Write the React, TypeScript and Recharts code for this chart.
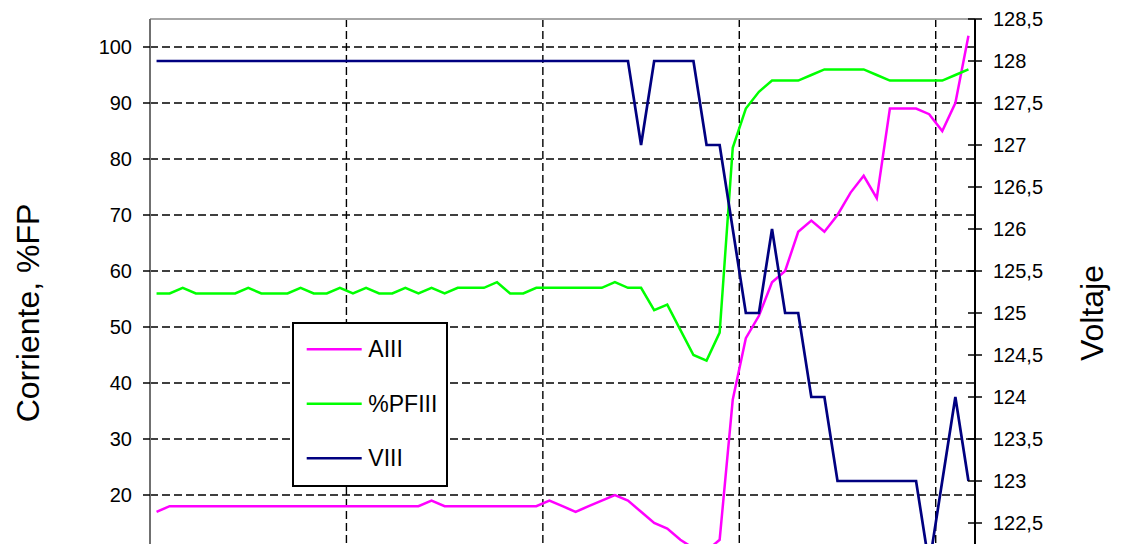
import React from "react";
import {
  LineChart,
  Line,
  XAxis,
  YAxis,
  CartesianGrid,
  Legend,
  ReferenceLine,
} from "recharts";

// values, one per sample (63 samples)
const aIII = [
  17, 18, 18, 18, 18, 18, 18, 18, 18, 18, 18, 18, 18, 18, 18, 18, 18, 18, 18, 18,
  18, 19, 18, 18, 18, 18, 18, 18, 18, 18, 19, 18, 17, 18, 19, 20, 19, 17, 15, 14,
  12, 10.5, 10, 12, 37, 48, 52, 58, 60, 67, 69, 67, 70, 74, 77, 73, 89, 89, 89, 88,
  85, 90, 102,
];

const pfIII = [
  56, 56, 57, 56, 56, 56, 56, 57, 56, 56, 56, 57, 56, 56, 57, 56, 57, 56, 56, 57,
  56, 57, 56, 57, 57, 57, 58, 56, 56, 57, 57, 57, 57, 57, 57, 58, 57, 57, 53, 54,
  49.5, 45, 44, 49, 82, 89, 92, 94, 94, 94, 95, 96, 96, 96, 96, 95, 94, 94, 94, 94,
  94, 95, 96,
];

const vIII = [
  128, 128, 128, 128, 128, 128, 128, 128, 128, 128, 128, 128, 128, 128, 128, 128,
  128, 128, 128, 128, 128, 128, 128, 128, 128, 128, 128, 128, 128, 128, 128, 128,
  128, 128, 128, 128, 128, 127, 128, 128, 128, 128, 127, 127, 126, 125, 125, 126,
  125, 125, 124, 124, 123, 123, 123, 123, 123, 123, 123, 122, 123, 124, 123,
];

const seriesNames = ["AIII", "%PFIII", "VIII"];

// only the ticks that fall inside the visible (cropped) part of the chart
const leftTicks = [20, 30, 40, 50, 60, 70, 80, 90, 100];
const rightTicks = [
  122.5, 123, 123.5, 124, 124.5, 125, 125.5, 126, 126.5, 127, 127.5, 128, 128.5,
];
// category boundaries where the vertical grid lines fall (every 15 samples)
const xGridTicks = [14.5, 29.5, 44.5, 59.5];

const rows = aIII.map((a, i) => ({
  idx: i,
  [seriesNames[0]]: a,
  [seriesNames[1]]: pfIII[i],
  [seriesNames[2]]: vIII[i],
}));

const FONT = "'Liberation Sans', Arial, Helvetica, sans-serif";
const comma = (v: number) => String(v).replace(".", ",");

const RightTick = (props: any) => {
  const { x, y, payload } = props;
  return (
    <g>
      <line x1={x - 25} x2={x - 18} y1={y} y2={y} stroke="#000" strokeWidth={1.5} />
      <text x={x} y={y} dy="0.355em" fontSize={20} fill="#000" textAnchor="start" fontFamily={FONT}>
        {comma(payload.value)}
      </text>
    </g>
  );
};

const axisTitle = (text: string, dx: number) => (p: any) => {
  const vb = p && p.viewBox ? p.viewBox : { x: 0, y: 19, width: 150, height: 588 };
  const cx = vb.x + dx;
  const cy = vb.y + vb.height / 2;
  return (
    <text
      x={cx}
      y={cy}
      transform={`rotate(-90, ${cx}, ${cy})`}
      textAnchor="middle"
      fontSize={32}
      fill="#000"
      fontFamily={FONT}
    >
      {text}
    </text>
  );
};

const LegendBox = (props: any) => {
  const items = [...(props.payload || [])].sort(
    (a: any, b: any) => seriesNames.indexOf(a.value) - seriesNames.indexOf(b.value)
  );
  return (
    <svg width={152} height={161} style={{ display: "block" }}>
      {items.map((it: any, k: number) => {
        const y = 25.3 + k * 54.5;
        return (
          <g key={it.value}>
            <line x1={12.7} x2={67.7} y1={y} y2={y} stroke={it.color} strokeWidth={2.5} />
            <text x={74.3} y={y} dy="0.355em" fontSize={23} fill="#000" fontFamily={FONT}>
              {it.value}
            </text>
          </g>
        );
      })}
    </svg>
  );
};

export default function App() {
  return (
    <div
      style={{
        position: "absolute",
        left: 0,
        top: 0,
        width: 1133,
        height: 544,
        overflow: "hidden",
        background: "#fff",
      }}
    >
      <LineChart
        width={1133}
        height={640}
        data={rows}
        margin={{ top: 19, right: 0, bottom: 3, left: 0 }}
        style={{ fontFamily: FONT }}
      >
        <CartesianGrid
          yAxisId="left"
          stroke="#000"
          strokeWidth={1.4}
          strokeDasharray="8 4"
        />
        <XAxis
          dataKey="idx"
          type="number"
          domain={[-0.5, 62.5]}
          ticks={xGridTicks}
          tickFormatter={() => ""}
          height={30}
          stroke="#000"
        />
        <YAxis
          yAxisId="left"
          orientation="left"
          width={150}
          domain={[0, 105]}
          ticks={leftTicks}
          interval={0}
          tickSize={7}
          tickMargin={11}
          axisLine={{ stroke: "#707070", strokeWidth: 2 }}
          tickLine={{ stroke: "#000", strokeWidth: 1.5 }}
          tick={{ fontSize: 20, fill: "#000", fontFamily: FONT }}
          label={{ content: axisTitle("Corriente, %FP", 39) }}
        />
        <YAxis
          yAxisId="right"
          orientation="right"
          width={158}
          domain={[121.5, 128.5]}
          ticks={rightTicks}
          interval={0}
          tickSize={7}
          tickMargin={11}
          axisLine={{ stroke: "#000", strokeWidth: 2 }}
          tickLine={{ stroke: "#000", strokeWidth: 1.5 }}
          tick={<RightTick />}
          label={{ content: axisTitle("Voltaje", 128) }}
        />
        <ReferenceLine yAxisId="left" y={105} stroke="#a6a6a6" strokeWidth={2} />
        <Legend
          layout="vertical"
          align="center"
          verticalAlign="middle"
          content={<LegendBox />}
          wrapperStyle={{
            left: 292,
            top: 322,
            width: 156,
            height: 165,
            border: "2px solid #000",
            background: "#fff",
            boxSizing: "border-box",
          }}
        />
        <Line
          yAxisId="left"
          type="linear"
          dataKey="AIII"
          stroke="#ff00ff"
          strokeWidth={2.5}
          dot={false}
          isAnimationActive={false}
        />
        <Line
          yAxisId="left"
          type="linear"
          dataKey="%PFIII"
          stroke="#00ff00"
          strokeWidth={2.5}
          dot={false}
          isAnimationActive={false}
        />
        <Line
          yAxisId="right"
          type="linear"
          dataKey="VIII"
          stroke="#000080"
          strokeWidth={2.7}
          dot={false}
          isAnimationActive={false}
        />
      </LineChart>
    </div>
  );
}
